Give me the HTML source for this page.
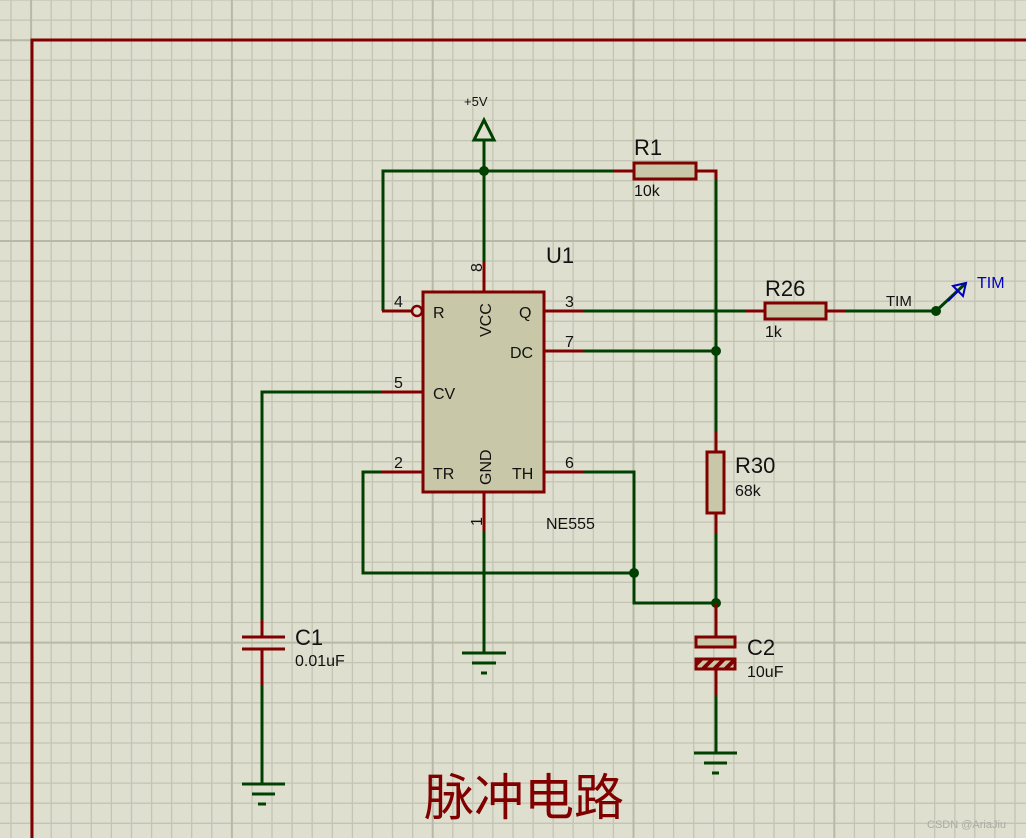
<!DOCTYPE html>
<html><head><meta charset="utf-8"><style>
html,body{margin:0;padding:0;background:#dfdfd0;}
svg{display:block;font-family:"Liberation Sans",sans-serif;}
</style></head><body>
<svg id="s" width="1026" height="838" viewBox="0 0 1026 838" xmlns="http://www.w3.org/2000/svg">
<defs>
<pattern id="h" width="8" height="8" patternUnits="userSpaceOnUse" patternTransform="rotate(45)">
<rect width="8" height="8" fill="#c8c8a8"/><rect width="4" height="8" fill="#800000"/>
</pattern>
</defs>
<rect width="1026" height="838" fill="#dfdfd0"/>
<g id="grid" fill="none"></g>
<path d="M32 838V40H1026" stroke="#800000" stroke-width="3" fill="none"/>

<g stroke="#004000" stroke-width="3" fill="none">
<path d="M484 140V261"/>
<path d="M383 311V171H613"/>
<path d="M716 171V432"/>
<path d="M584 311H746"/>
<path d="M846 311H936L966 283"/>
<path d="M584 351H716"/>
<path d="M382 392H262V620"/>
<path d="M262 685V784"/>
<path d="M382 472H363V573H634"/>
<path d="M584 472H634V603H716"/>
<path d="M716 533V603"/>
<path d="M716 695V753"/>
<path d="M484 532V653"/>
<path d="M462 653H506M472 663H496M481 673H487"/>
<path d="M242 784H285M252 794H275M258 804H266"/>
<path d="M694 753H737M704 763H727M712 773H719"/>
<path d="M484 120L474 140H494Z"/>
</g>
<g fill="#004000">
<circle cx="484" cy="171" r="5"/><circle cx="716" cy="351" r="5"/>
<circle cx="634" cy="573" r="5"/><circle cx="716" cy="603" r="5"/>
<circle cx="936" cy="311" r="5"/>
</g>
<path d="M966 283l-13 3 10 10z" stroke="#0000c0" stroke-width="2" fill="none"/>
<path d="M948 301l10-10" stroke="#0000c0" stroke-width="2"/>

<g stroke="#800000" stroke-width="3" fill="none">
<path d="M484 261V291M484 492V532"/>
<path d="M382 311H412"/>
<path d="M544 311H584M544 351H584M544 472H584"/>
<path d="M382 392H423M382 472H423"/>
<path d="M613 171H633M696 171H716V180"/>
<path d="M746 311H765M826 311H846"/>
<path d="M716 432V452M716 513V533"/>
<path d="M716 603V636M716 669V695"/>
<path d="M262 620V637M262 649V685M242 637H285M242 649H285"/>
</g>
<rect x="423" y="292" width="121" height="200" fill="#c8c8a8" stroke="#800000" stroke-width="3"/>
<circle cx="417" cy="311" r="5" fill="#dfdfd0" stroke="#800000" stroke-width="2.5"/>
<rect x="634" y="163" width="62" height="16" fill="#c8c8a8" stroke="#800000" stroke-width="3"/>
<rect x="765" y="303" width="61" height="16" fill="#c8c8a8" stroke="#800000" stroke-width="3"/>
<rect x="707" y="452" width="17" height="61" fill="#c8c8a8" stroke="#800000" stroke-width="3"/>
<rect x="696" y="637" width="39" height="10" fill="#c8c8a8" stroke="#800000" stroke-width="3"/>
<rect x="696" y="659" width="39" height="10" fill="url(#h)" stroke="#800000" stroke-width="3"/>

<g fill="#111" font-size="16">
<text x="433" y="318">R</text><text x="519" y="318">Q</text>
<text x="510" y="358">DC</text><text x="433" y="399">CV</text>
<text x="433" y="479">TR</text><text x="512" y="479">TH</text>
<text transform="translate(491,337) rotate(-90)">VCC</text>
<text transform="translate(491,485) rotate(-90)">GND</text>
<text x="394" y="307">4</text><text x="565" y="307">3</text>
<text x="565" y="347">7</text><text x="394" y="388">5</text>
<text x="394" y="468">2</text><text x="565" y="468">6</text>
<text transform="translate(482,272) rotate(-90)">8</text>
<text transform="translate(482,526) rotate(-90)">1</text>
<text x="546" y="529">NE555</text>
<text x="634" y="196">10k</text><text x="765" y="337">1k</text>
<text x="735" y="496">68k</text><text x="747" y="677">10uF</text>
<text x="295" y="666">0.01uF</text>
<text x="886" y="306" font-size="15">TIM</text>
<text x="464" y="106" font-size="13">+5V</text>
</g>
<g fill="#111" font-size="22">
<text x="546" y="263">U1</text><text x="634" y="155">R1</text>
<text x="765" y="296">R26</text><text x="735" y="473">R30</text>
<text x="747" y="655">C2</text><text x="295" y="645">C1</text>
</g>
<text x="977" y="288" font-size="16" fill="#0000c0">TIM</text>
<text x="424" y="815" font-size="50" fill="#800000" font-family="'Liberation Sans','Noto Sans CJK SC',sans-serif">脉冲电路</text>
<text x="927" y="828" font-size="11" fill="#aaaaa0">CSDN @AriaJiu</text>
</svg>
<script>
(function(){
var g=document.getElementById('grid'),ns='http://www.w3.org/2000/svg',s=20.08,d='',D='';
for(var k=0;k<52;k++){var x=11+s*k;if(x>1026)break;var str='M'+x.toFixed(1)+' 0V838';if(k%10==1)D+=str;else d+=str;}
for(var k=0;k<43;k++){var y=s*k;if(y>838)break;var str='M0 '+y.toFixed(1)+'H1026';if(k%10==2)D+=str;else d+=str;}
var p=document.createElementNS(ns,'path');p.setAttribute('d',d);p.setAttribute('stroke','#c4c4b4');p.setAttribute('stroke-width','1.3');g.appendChild(p);
var q=document.createElementNS(ns,'path');q.setAttribute('d',D);q.setAttribute('stroke','#b8b8a6');q.setAttribute('stroke-width','2');g.appendChild(q);
})();
</script>
</body></html>
